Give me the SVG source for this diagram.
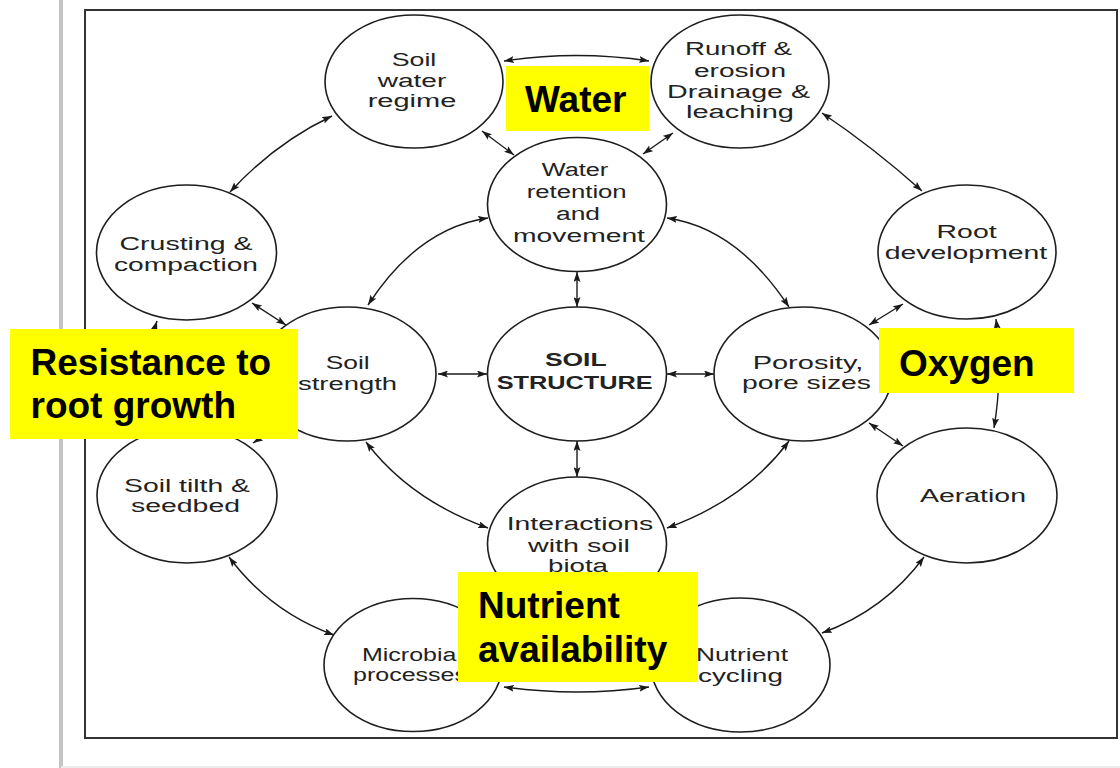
<svg xmlns="http://www.w3.org/2000/svg" width="1120" height="768" viewBox="0 0 1120 768">
<defs>
<marker id="ah" viewBox="0 0 10 7" refX="10" refY="3.5" markerWidth="10" markerHeight="7" markerUnits="userSpaceOnUse" orient="auto-start-reverse">
<path d="M0,0 L10,3.5 L0,7 L2,3.5 z" fill="#1a1a1a"/>
</marker>
</defs>
<style>
.node ellipse{fill:#fff;stroke:#1e1e1e;stroke-width:1.6}
.node text{font-family:"Liberation Sans",Arial,sans-serif;font-size:18px;fill:#222;text-anchor:middle}
.bold text{font-weight:bold}
#connectors path{fill:none;stroke:#1a1a1a;stroke-width:1.4;marker-start:url(#ah);marker-end:url(#ah)}
.label rect{fill:#ffff00}
.label text{font-family:"Liberation Sans",Arial,sans-serif;font-size:37px;font-weight:bold;fill:#000}
</style>
<rect x="0" y="0" width="1120" height="768" fill="#fff"/>
<rect x="59" y="0" width="4" height="768" fill="#c4c4c4"/>
<line x1="61" y1="767" x2="1120" y2="767" stroke="#ececec" stroke-width="2"/>
<rect id="frame" x="85" y="10" width="1032" height="728" fill="none" stroke="#333" stroke-width="2"/>

<g id="connectors">
<path d="M504,61 Q577,50 649,61"/>
<path d="M482,131 L514,155"/>
<path d="M673,133 L643,154"/>
<path d="M822,113 Q874,148 922,191"/>
<path d="M332,116 Q275,143 230,192"/>
<path d="M488,218 Q418,228 368,305"/>
<path d="M667,218 Q737,228 789,307"/>
<path d="M577,272 L577,307"/>
<path d="M252,303 L286,325"/>
<path d="M157,321 Q140,375 152,430"/>
<path d="M438,374 L487,374"/>
<path d="M667,374 L714,374"/>
<path d="M869,325 L903,304"/>
<path d="M996,319 Q1003,374 994,428"/>
<path d="M869,423 L903,446"/>
<path d="M577,441 L577,477"/>
<path d="M366,442 Q410,500 488,528"/>
<path d="M789,441 Q745,500 667,528"/>
<path d="M229,557 Q270,612 334,635"/>
<path d="M504,687 Q577,697 649,687"/>
<path d="M924,557 Q885,610 822,633"/>
<path d="M285,422 L253,443"/>
</g>

<g id="node-soil-water-regime" class="node">
<ellipse cx="414" cy="81.5" rx="89" ry="66.5"/>
<text x="414" y="65.5" textLength="44.6" lengthAdjust="spacingAndGlyphs">Soil</text>
<text x="412" y="87" textLength="68.5" lengthAdjust="spacingAndGlyphs">water</text>
<text x="412" y="107.3" textLength="88.6" lengthAdjust="spacingAndGlyphs">regime</text>
</g>

<g id="node-runoff" class="node">
<ellipse cx="740" cy="81.5" rx="89" ry="66.5"/>
<text x="738.5" y="55" textLength="107" lengthAdjust="spacingAndGlyphs">Runoff &amp;</text>
<text x="740" y="76.7" textLength="92" lengthAdjust="spacingAndGlyphs">erosion</text>
<text x="738.5" y="97.7" textLength="143" lengthAdjust="spacingAndGlyphs">Drainage &amp;</text>
<text x="740" y="118.3" textLength="108" lengthAdjust="spacingAndGlyphs">leaching</text>
</g>

<g id="node-water-retention" class="node">
<ellipse cx="577" cy="204.5" rx="89.5" ry="67"/>
<text x="575" y="176" textLength="66.6" lengthAdjust="spacingAndGlyphs">Water</text>
<text x="576.7" y="198.3" textLength="100" lengthAdjust="spacingAndGlyphs">retention</text>
<text x="578" y="220" textLength="44" lengthAdjust="spacingAndGlyphs">and</text>
<text x="579" y="241.7" textLength="132" lengthAdjust="spacingAndGlyphs">movement</text>
</g>

<g id="node-crusting" class="node">
<ellipse cx="186.5" cy="252.5" rx="90" ry="67.5"/>
<text x="186" y="250" textLength="133" lengthAdjust="spacingAndGlyphs">Crusting &amp;</text>
<text x="186" y="270.5" textLength="144" lengthAdjust="spacingAndGlyphs">compaction</text>
</g>

<g id="node-root-development" class="node">
<ellipse cx="967" cy="252" rx="89" ry="67"/>
<text x="966.6" y="238" textLength="60" lengthAdjust="spacingAndGlyphs">Root</text>
<text x="966" y="259" textLength="162.5" lengthAdjust="spacingAndGlyphs">development</text>
</g>

<g id="node-soil-strength" class="node">
<ellipse cx="347" cy="374" rx="89" ry="67"/>
<text x="347.7" y="369" textLength="44" lengthAdjust="spacingAndGlyphs">Soil</text>
<text x="347.5" y="390" textLength="99" lengthAdjust="spacingAndGlyphs">strength</text>
</g>

<g id="node-soil-structure" class="node bold">
<ellipse cx="577" cy="374" rx="89.5" ry="67"/>
<text x="575.8" y="366" textLength="61.7" lengthAdjust="spacingAndGlyphs">SOIL</text>
<text x="574.7" y="389.3" textLength="156" lengthAdjust="spacingAndGlyphs">STRUCTURE</text>
</g>

<g id="node-porosity" class="node">
<ellipse cx="803" cy="374" rx="89" ry="67"/>
<text x="808" y="369" textLength="110.7" lengthAdjust="spacingAndGlyphs">Porosity,</text>
<text x="806.5" y="389" textLength="129" lengthAdjust="spacingAndGlyphs">pore sizes</text>
</g>

<g id="node-aeration" class="node">
<ellipse cx="967" cy="495.5" rx="90" ry="67.5"/>
<text x="973" y="501.7" textLength="106" lengthAdjust="spacingAndGlyphs">Aeration</text>
</g>

<g id="node-soil-tilth" class="node">
<ellipse cx="187" cy="495.5" rx="90" ry="67.5"/>
<text x="187" y="491.7" textLength="126" lengthAdjust="spacingAndGlyphs">Soil tilth &amp;</text>
<text x="185.5" y="511.7" textLength="109" lengthAdjust="spacingAndGlyphs">seedbed</text>
</g>

<g id="node-interactions" class="node">
<ellipse cx="577" cy="544" rx="89.5" ry="67"/>
<text x="580" y="530" textLength="146.6" lengthAdjust="spacingAndGlyphs">Interactions</text>
<text x="579" y="551.7" textLength="102" lengthAdjust="spacingAndGlyphs">with soil</text>
<text x="578" y="572" textLength="60" lengthAdjust="spacingAndGlyphs">biota</text>
</g>

<g id="node-microbial" class="node">
<ellipse cx="413" cy="665" rx="89" ry="66.5"/>
<text x="412" y="660.7" textLength="100" lengthAdjust="spacingAndGlyphs">Microbial</text>
<text x="410" y="681" textLength="114" lengthAdjust="spacingAndGlyphs">processes</text>
</g>

<g id="node-nutrient-cycling" class="node">
<ellipse cx="740.5" cy="665" rx="89.5" ry="67"/>
<text x="742" y="660.7" textLength="92" lengthAdjust="spacingAndGlyphs">Nutrient</text>
<text x="740.5" y="681.7" textLength="85" lengthAdjust="spacingAndGlyphs">cycling</text>
</g>

<g id="label-water" class="label">
<rect x="506" y="66" width="143" height="65"/>
<text x="525" y="111.5">Water</text>
</g>
<g id="label-resistance" class="label">
<rect x="10" y="329" width="288" height="110"/>
<text x="30.5" y="375">Resistance to</text>
<text x="30.5" y="418">root growth</text>
</g>
<g id="label-oxygen" class="label">
<rect x="879" y="328" width="195" height="65"/>
<text x="899" y="375.5">Oxygen</text>
</g>
<g id="label-nutrient" class="label">
<rect x="458" y="572" width="240" height="110"/>
<text x="478" y="618">Nutrient</text>
<text x="478" y="661.7">availability</text>
</g>
</svg>
